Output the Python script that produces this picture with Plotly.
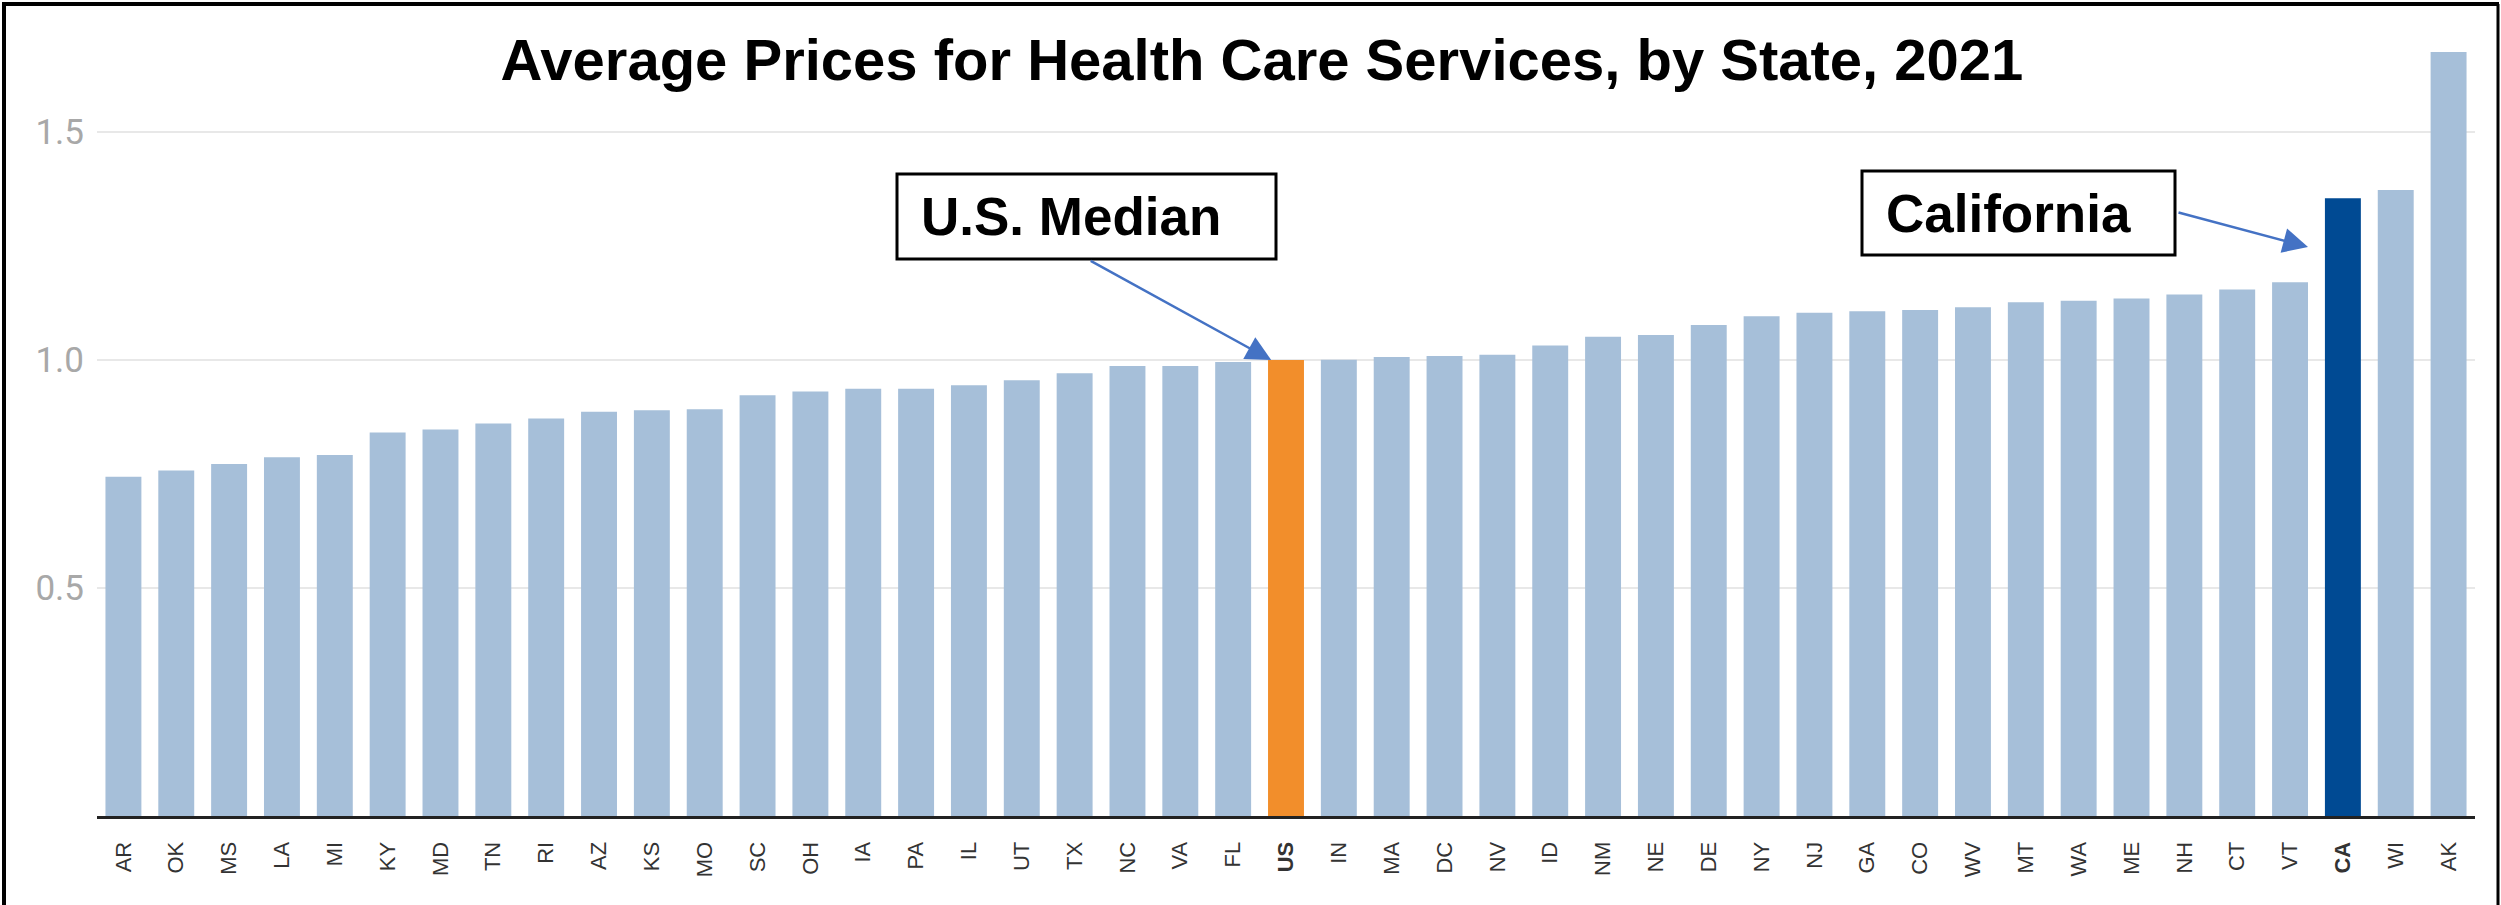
import plotly.graph_objects as go

states = ["AR", "OK", "MS", "LA", "MI", "KY", "MD", "TN", "RI", "AZ", "KS", "MO",
          "SC", "OH", "IA", "PA", "IL", "UT", "TX", "NC", "VA", "FL", "US", "IN",
          "MA", "DC", "NV", "ID", "NM", "NE", "DE", "NY", "NJ", "GA", "CO", "WV",
          "MT", "WA", "ME", "NH", "CT", "VT", "CA", "WI", "AK"]
prices = [0.744, 0.758, 0.772, 0.787, 0.792, 0.841, 0.848, 0.861, 0.872, 0.887,
          0.890, 0.892, 0.923, 0.931, 0.937, 0.937, 0.945, 0.956, 0.971, 0.987,
          0.987, 0.996, 1.000, 1.001, 1.007, 1.009, 1.012, 1.032, 1.051, 1.055,
          1.077, 1.096, 1.104, 1.107, 1.110, 1.116, 1.127, 1.130, 1.135, 1.144,
          1.155, 1.171, 1.355, 1.373, 1.676]
highlight = {"US": "#f28e2b", "CA": "#004a93"}
base_color = "#a6bfd9"
y_tickvals = [0.5, 1.0, 1.5]
y_ticktext = ["0.5", "1.0", "1.5"]
title_text = "Average Prices for Health Care Services, by State, 2021"

W, H = 2501, 905
ML, MR, MT, MB = 97, 26, 41, 89
PW, PH = W - ML - MR, H - MT - MB


def px(x):
    return (x - ML) / PW


def py(y):
    return (H - MB - y) / PH


colors = [highlight.get(s, base_color) for s in states]
ticktext = [f"<b>{s}</b>" if s in highlight else s for s in states]

fig = go.Figure(go.Bar(x=states, y=prices, marker=dict(color=colors, line=dict(width=0)),
                       hoverinfo="x+y"))

fig.update_layout(
    width=W, height=H, autosize=False,
    margin=dict(l=ML, r=MR, t=MT, b=MB),
    paper_bgcolor="white", plot_bgcolor="white",
    bargap=0.32, showlegend=False,
    font=dict(family="Liberation Sans, Arial, sans-serif"),
    title=dict(text=f"<b>{title_text}</b>", x=1262 / W, xanchor="center",
               y=1 - 60 / H, yanchor="middle", yref="container",
               font=dict(size=58, color="black", family="Liberation Sans, Arial, sans-serif")),
)
fig.update_xaxes(
    tickmode="array", tickvals=states, ticktext=ticktext, tickangle=-90,
    tickfont=dict(size=22, color="#333333", family="Liberation Sans, Arial, sans-serif"),
    showline=True, linecolor="#222222", linewidth=3, showgrid=False, ticks="",
    ticklabelstandoff=14,
)
fig.update_yaxes(
    range=[0, 1.7], tickmode="array", tickvals=y_tickvals, ticktext=y_ticktext,
    tickfont=dict(size=35, color="#a8a8a8", family="Roboto, sans-serif"),
    showgrid=True, gridcolor="#e8e8e8", gridwidth=2, zeroline=False, showline=False,
    ticks="", ticklabelstandoff=12,
)

# Callout boxes
boxes = [
    ("U.S. Median", 897, 174, 1276, 259),
    ("California", 1862, 171, 2175, 255),
]
for text, x0, y0, x1, y1 in boxes:
    fig.add_shape(type="rect", xref="paper", yref="paper",
                  x0=px(x0), x1=px(x1), y0=py(y1), y1=py(y0),
                  line=dict(color="black", width=3), fillcolor="white")
    fig.add_annotation(xref="paper", yref="paper", x=px(x0 + 22), y=py((y0 + y1) / 2),
                       xanchor="left", yanchor="middle", showarrow=False,
                       text=f"<b>{text}</b>",
                       font=dict(size=53, color="black", family="Liberation Sans, Arial, sans-serif"))

# Arrows (tip in data coords, tail offset in pixels)
arrows = [
    (21.72, 1.0, -182, -100),
    (41.34, 1.248, -131, -35),
]
for xt, yt, ax, ay in arrows:
    fig.add_annotation(x=xt, y=yt, xref="x", yref="y", ax=ax, ay=ay, axref="pixel", ayref="pixel",
                       showarrow=True, arrowhead=2, arrowsize=2, arrowwidth=2.5,
                       arrowcolor="#4472c4", text="", standoff=0)

# Outer border
fig.add_shape(type="line", xref="paper", yref="paper", x0=px(4), x1=px(4), y0=py(905), y1=py(4),
              line=dict(color="black", width=4))
fig.add_shape(type="line", xref="paper", yref="paper", x0=px(2), x1=px(2499), y0=py(4), y1=py(4),
              line=dict(color="black", width=4))
fig.add_shape(type="line", xref="paper", yref="paper", x0=px(2498), x1=px(2498), y0=py(905), y1=py(4),
              line=dict(color="black", width=3))

fig.write_html("out.html", config={"displayModeBar": False},
               post_script="document.body.style.margin='0';document.body.style.overflow='hidden';")
